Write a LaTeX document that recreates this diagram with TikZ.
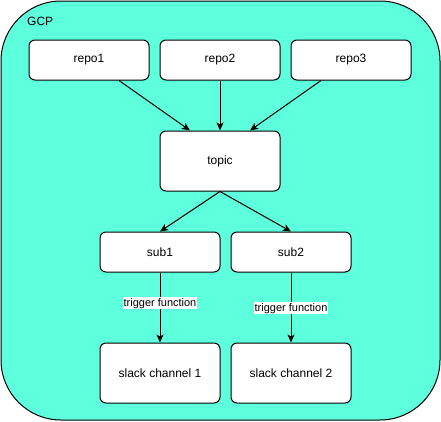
\documentclass[tikz,border=0pt]{standalone}
\usepackage{fontspec}
\setmainfont{Liberation Sans}
\usetikzlibrary{positioning,arrows.meta}
\definecolor{gcpcyan}{HTML}{5EFFDC}
\tikzset{
    box/.style={draw, fill=white, line width=1pt, rounded corners=6pt, minimum width=120pt, minimum height=40pt, inner sep=0pt, font=\fontsize{12}{14}\selectfont},
    tall/.style={minimum height=60pt},
    link/.style={line width=1pt, -{Stealth[length=8pt,width=7pt,inset=2pt]}},
    tag/.style={fill=white, inner sep=1pt, font=\fontsize{11}{12}\selectfont}
}
\begin{document}
\begin{tikzpicture}[x=1pt,y=-1pt]
            \useasboundingbox (0,0) rectangle (441,421);
            \draw[fill=gcpcyan, line width=1pt, rounded corners=60pt] (1,1) rectangle (440,420);
            \node (gcp) [anchor=west, inner sep=0pt, font=\fontsize{12}{14}\selectfont] at (27,21) {GCP};

            \node (repo2) [box] at (220,60) {repo2};
            \node (repo1) [box, left=10pt of repo2] {repo1};
            \node (repo3) [box, right=10pt of repo2] {repo3};
            \node (topic) [box, tall, below=50pt of repo2] {topic};
            \node (sub1) [box, below=40pt of topic, xshift=-60pt] {sub1};
            \node (sub2) [box, right=10pt of sub1] {sub2};
            \node (slack1) [box, tall, below=70pt of sub1] {slack channel 1};
            \node (slack2) [box, tall, below=70pt of sub2] {slack channel 2};

            \draw[link] ([xshift=30pt]repo1.south) -- ([xshift=-30pt]topic.north);
            \draw[link] (repo2) -- (topic);
            \draw[link] ([xshift=-30pt]repo3.south) -- ([xshift=30pt]topic.north);
            \draw[link] (topic.south) -- (sub1.north);
            \draw[link] (topic.south) -- (sub2.north);
            \draw[link] (sub1) -- node[tag, pos=0.44] {trigger function} (slack1);
            \draw[link] (sub2) -- node[tag, pos=0.51] {trigger function} (slack2);
\end{tikzpicture}
\end{document}
